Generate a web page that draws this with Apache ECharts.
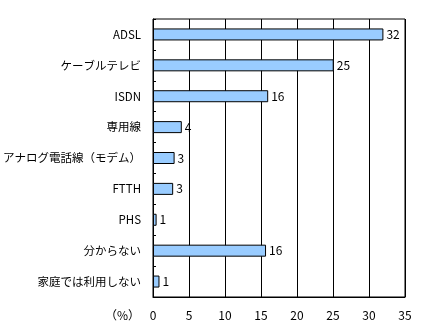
<!DOCTYPE html>
<html><head><meta charset="utf-8">
<script src="https://cdn.jsdelivr.net/npm/echarts@6/dist/echarts.min.js"></script>
<style>html,body{margin:0;padding:0;background:#fff}#c{width:423px;height:327px}</style>
</head><body><div id="c"></div>
<script>
const categories = ['ADSL','ケーブルテレビ','ISDN','専用線','アナログ電話線（モデム）','FTTH','PHS','分からない','家庭では利用しない'];
const values = [32.0, 25.1, 16.0, 4.0, 3.0, 2.8, 0.5, 15.7, 0.9];
const xTicks = [0,5,10,15,20,25,30,35];
const unitLabel = '（%）';

const font = '"Noto Sans CJK JP", sans-serif';
const chart = echarts.init(document.getElementById('c'), null, {renderer:'canvas'});
chart.setOption({
  animation:false,
  backgroundColor:'#fff',
  grid:{left:153, right:18, top:19, bottom:30, show:true, borderColor:'#000', borderWidth:1, containLabel:false, outerBoundsMode:'none'},
  xAxis:{type:'value', min:xTicks[0], max:xTicks[xTicks.length-1], interval:xTicks[1]-xTicks[0],
    axisLine:{show:true, lineStyle:{color:'#000'}}, axisTick:{show:false},
    splitLine:{show:true, lineStyle:{color:'#000', width:1}},
    axisLabel:{color:'#000', fontSize:12, fontFamily:font, margin:12}},
  yAxis:{type:'category', data:categories, inverse:true,
    axisLine:{show:true, lineStyle:{color:'#000'}},
    axisTick:{show:true, inside:true, length:3, lineStyle:{color:'#000'}},
    axisLabel:{color:'#000', fontSize:11.5, fontFamily:font, margin:12}},
  graphic:[{type:'text', left:105, top:309, style:{text:unitLabel, fill:'#000', font:'12px '+font}}],
  series:[{type:'bar', data:values, barWidth:12,
    itemStyle:{color:'#99CCFF', borderColor:'#000', borderWidth:1},
    label:{show:true, position:'right', distance:3, color:'#000', fontSize:12, fontFamily:font,
      formatter:p=>Math.round(p.value)}}]
});
</script></body></html>
